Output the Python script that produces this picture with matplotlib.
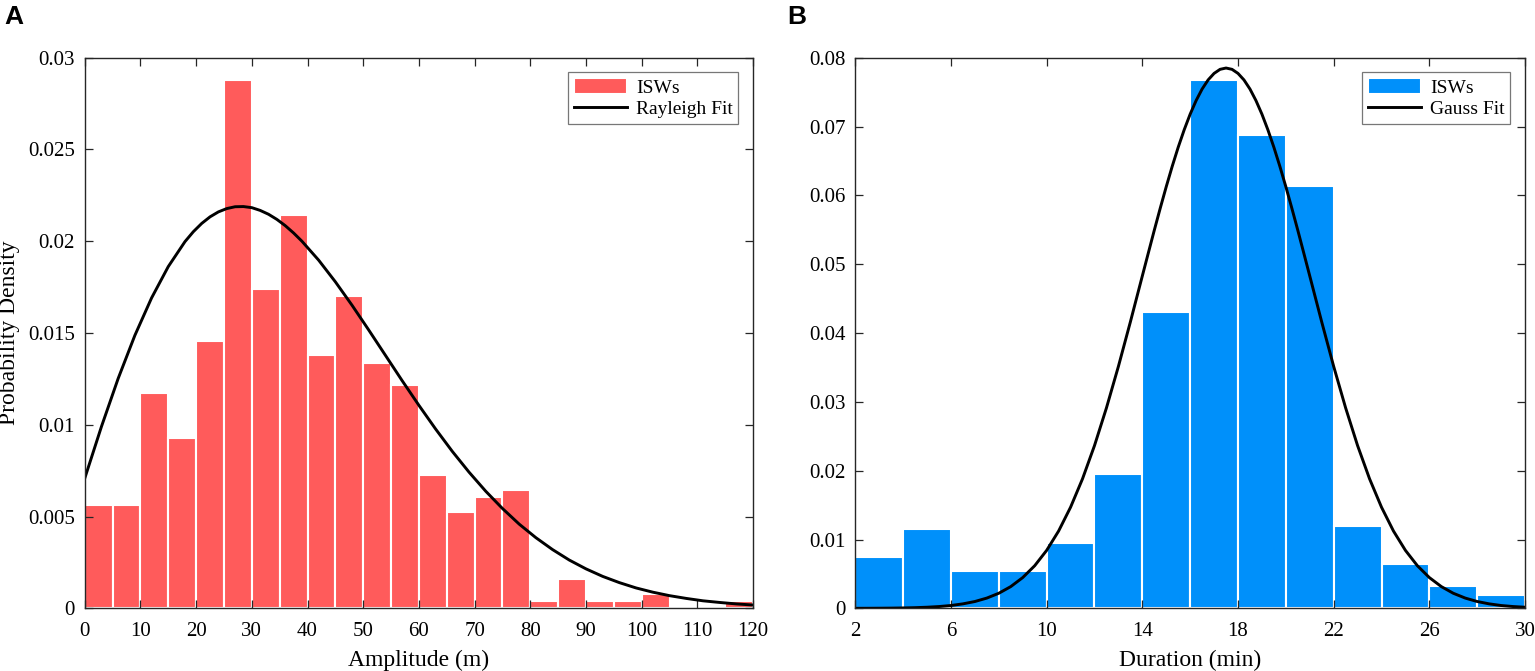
import matplotlib
matplotlib.use("Agg")
import matplotlib.pyplot as plt
import numpy as np

plt.rcParams['font.family'] = ['Liberation Serif', 'DejaVu Serif']

# panel A: amplitude histogram (bin width 5 m)
amp_edges = [0, 5, 10, 15, 20, 25, 30, 35, 40, 45, 50, 55, 60, 65, 70, 75, 80, 85, 90, 95, 100, 105, 110, 115]
amp_density = [0.00564, 0.00564, 0.01175, 0.00929, 0.01458, 0.02877, 0.0174, 0.02143, 0.01378, 0.01702,
               0.01336, 0.01215, 0.00727, 0.00524, 0.00605, 0.00645, 0.00038, 0.0016, 0.00038, 0.00038,
               0.00076, 0.0, 0.0, 0.00038]

# Rayleigh fit curve
ray_x = [0, 3, 6, 9, 12, 15, 18, 19.5, 21, 22.5, 24, 25.5, 27, 28.5, 30, 31.5, 33, 34.5, 36, 37.5,
         39, 42, 45, 48, 51, 54, 57, 60, 63, 66, 69, 72, 75, 78, 81, 84, 87, 90, 93, 96, 99,
         102, 105, 108, 111, 114, 117, 120]
ray_y = [0.00708, 0.00990, 0.01252, 0.01487, 0.01691, 0.01862, 0.01998, 0.02052, 0.02097, 0.02133,
         0.02160, 0.02178, 0.02188, 0.02189, 0.02183, 0.02168, 0.02147, 0.02119, 0.02085, 0.02045,
         0.02000, 0.01897, 0.01779, 0.01651, 0.01516, 0.01378, 0.01240, 0.01106, 0.00977, 0.00855,
         0.00742, 0.00638, 0.00544, 0.00459, 0.00385, 0.00320, 0.00263, 0.00215, 0.00174, 0.00140,
         0.00111, 0.00088, 0.00069, 0.00054, 0.00041, 0.00032, 0.00024, 0.00018]

# panel B: duration histogram (bin width 2 min)
dur_edges = [2, 4, 6, 8, 10, 12, 14, 16, 18, 20, 22, 24, 26, 28]
dur_density = [0.00743, 0.01146, 0.00539, 0.00539, 0.00942, 0.01956, 0.0431, 0.0768, 0.0687, 0.0613,
               0.0119, 0.0065, 0.0032, 0.0019]

# Gauss fit curve
gauss_x = [2, 2.5, 3, 3.5, 4, 4.5, 5, 5.5, 6, 6.5, 7, 7.5, 8, 8.5, 9, 9.5, 10, 10.5, 11, 11.5,
           12, 12.5, 13, 13.5, 14, 14.25, 14.5, 14.75, 15, 15.25, 15.5, 15.75, 16, 16.25, 16.5,
           16.75, 17, 17.25, 17.5, 17.75, 18, 18.25, 18.5, 18.75, 19, 19.25, 19.5, 19.75, 20,
           20.25, 20.5, 20.75, 21, 21.5, 22, 22.5, 23, 23.5, 24, 24.5, 25, 25.5, 26, 26.5, 27,
           27.5, 28, 28.5, 29, 29.5, 30]
gauss_y = [0.000006, 0.00001, 0.000019, 0.000033, 0.000057, 0.000096, 0.00016, 0.00026, 0.00041,
           0.00065, 0.00099, 0.00149, 0.00219, 0.00316, 0.00447, 0.00619, 0.00842, 0.01123,
           0.01469, 0.01882, 0.02364, 0.02912, 0.03515, 0.04161, 0.04829, 0.05162, 0.05493,
           0.05815, 0.06126, 0.06422, 0.06699, 0.06952, 0.07180, 0.07378, 0.07545, 0.07677,
           0.07772, 0.07831, 0.0785, 0.07831, 0.07772, 0.07677, 0.07545, 0.07378, 0.07180,
           0.06952, 0.06699, 0.06422, 0.06126, 0.05815, 0.05493, 0.05162, 0.04829, 0.04161,
           0.03515, 0.02912, 0.02364, 0.01882, 0.01469, 0.01123, 0.00842, 0.00619, 0.00447,
           0.00316, 0.00219, 0.00149, 0.00099, 0.00065, 0.00041, 0.00026, 0.00016]

red = '#FF5B5B'
blue = '#0090FA'
axis_col = '#262626'

fig = plt.figure(figsize=(15.35, 6.71), dpi=100)
ax1 = fig.add_axes([0.0552, 0.0934, 0.4354, 0.8206])
ax2 = fig.add_axes([0.5572, 0.0934, 0.4363, 0.8206])


def style_axes(ax):
    for s in ax.spines.values():
        s.set_color(axis_col)
        s.set_linewidth(1.0)
    ax.tick_params(direction='in', top=True, right=True, length=6, width=0.9,
                   color=axis_col, labelsize=15, pad=10)
    ax.tick_params(axis='y', pad=7)


def add_legend(ax, handles):
    leg = ax.legend(handles=handles, loc='upper right', fontsize=14, frameon=True, fancybox=False,
                    edgecolor='#555555', handlelength=2.75, handleheight=0.85, borderaxespad=0.75,
                    borderpad=0.3, labelspacing=0.15, handletextpad=0.45)
    leg.get_frame().set_linewidth(0.9)


bars1 = ax1.bar(amp_edges, amp_density, width=5, align='edge', color=red,
                edgecolor='white', linewidth=1.5, label='ISWs')
line1, = ax1.plot(ray_x, ray_y, color='black', linewidth=2.1, label='Rayleigh Fit')
ax1.set_xlim(0, 120)
ax1.set_ylim(0, 0.03)
ax1.set_xticks(np.arange(0, 121, 10))
ax1.set_yticks([0, 0.005, 0.01, 0.015, 0.02, 0.025, 0.03])
ax1.set_yticklabels(['0', '0.005', '0.01', '0.015', '0.02', '0.025', '0.03'])
ax1.set_xlabel('Amplitude (m)', fontsize=17, labelpad=6)
ax1.set_ylabel('Probability Density', fontsize=17, labelpad=6)
style_axes(ax1)
add_legend(ax1, [bars1, line1])

bars2 = ax2.bar(dur_edges, dur_density, width=2, align='edge', color=blue,
                edgecolor='white', linewidth=1.5, label='ISWs')
line2, = ax2.plot(gauss_x, gauss_y, color='black', linewidth=2.1, label='Gauss Fit')
ax2.set_xlim(2, 30)
ax2.set_ylim(0, 0.08)
ax2.set_xticks([2, 6, 10, 14, 18, 22, 26, 30])
ax2.set_yticks([0, 0.01, 0.02, 0.03, 0.04, 0.05, 0.06, 0.07, 0.08])
ax2.set_yticklabels(['0', '0.01', '0.02', '0.03', '0.04', '0.05', '0.06', '0.07', '0.08'])
ax2.set_xlabel('Duration (min)', fontsize=17, labelpad=6)
style_axes(ax2)
add_legend(ax2, [bars2, line2])

fig.text(0.003, 0.975, 'A', fontsize=19, fontweight='bold', family='Liberation Sans', va='center')
fig.text(0.513, 0.975, 'B', fontsize=19, fontweight='bold', family='Liberation Sans', va='center')

fig.savefig('out.png', dpi=100)
